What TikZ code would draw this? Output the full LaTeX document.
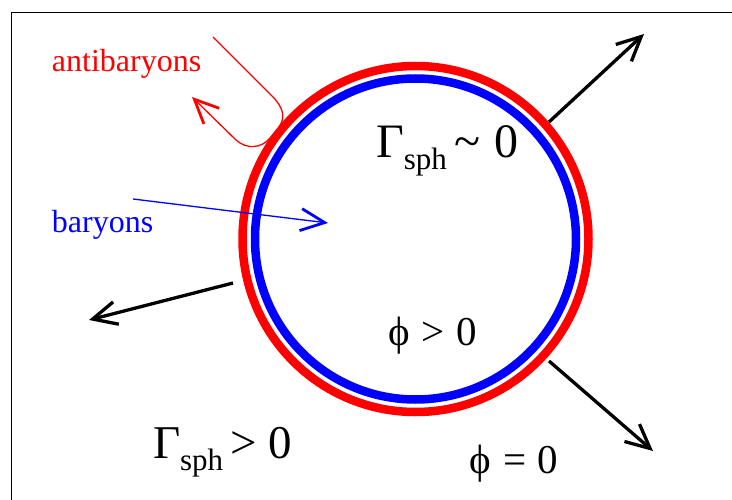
\documentclass[tikz,border=0pt]{standalone}
\usepackage{fontspec}
\setmainfont{Liberation Serif}
\usetikzlibrary{arrows.meta}
\tikzset{
  lbl/.style={anchor=base west, inner sep=0pt, outer sep=0pt},
  bigarrow/.style={draw=black, line width=3.3pt, -{Straight Barb[length=24pt,width=23pt,line width=3.3pt]}},
  thinarrow/.style={line width=1.3pt, -{Straight Barb[length=24pt,width=22pt,line width=2.8pt]}},
  ring/.style={line width=8.5pt}
}
\newcommand{\fs}[1]{\fontsize{#1}{#1}\selectfont}
\begin{document}
\begin{tikzpicture}[x=1pt,y=-1pt]
\useasboundingbox (0,0) rectangle (732,500);
% frame
\coordinate (fb) at (11.5,500);
\coordinate (fc) at (11.5,12.5);
\coordinate (fr) at (732,12.5);
\draw[line width=1.6pt] (fb) -- (fc) -- (fr);
% antibaryon path (bouncing off the wall)
\coordinate (ab0) at (213,37);
\coordinate (ab1) at (192,97);
\draw[red, thinarrow] (ab0) -- (272,96) .. controls (283,107) and (286,117) .. (279,127)
  -- (270,138) .. controls (262,148) and (247,150) .. (236,140) -- (ab1);
% rings
\coordinate (c) at (415.5,239);
\draw[red, ring] (c) circle[radius=173];
\draw[blue, ring] (c) circle[radius=160.5];
% baryon arrow
\coordinate (b0) at (133,199);
\coordinate (b1) at (328,223);
\draw[blue, thinarrow] (b0) -- (b1);
% wall arrows
\coordinate (w1a) at (549,122); \coordinate (w1b) at (644,34);
\coordinate (w2a) at (233,283); \coordinate (w2b) at (89,320);
\coordinate (w3a) at (549,361); \coordinate (w3b) at (653,451);
\draw[bigarrow] (w1a) -- (w1b);
\draw[bigarrow] (w2a) -- (w2b);
\draw[bigarrow] (w3a) -- (w3b);
% labels
\node[lbl, red] (anti) at (52,72) {\fs{32}antibaryons};
\node[lbl, blue] (bar) at (52,233) {\fs{32}baryons};
\node[lbl] (gin) at (376,158) {\fs{48}Γ\raisebox{-12pt}{\fs{31}sph}\hspace{8pt}\textasciitilde\hspace{14pt}0};
\node[lbl] (gout) at (153,458) {\fs{47}Γ\raisebox{-12pt}{\fs{31}sph}\hspace{7pt}>\hspace{12pt}0};
\node[lbl] (pin) at (388,345) {\fs{41}ϕ\hspace{12pt}>\hspace{12pt}0};
\node[lbl] (pout) at (469,473) {\fs{41}ϕ\hspace{13pt}=\hspace{11pt}0};
\end{tikzpicture}
\end{document}
